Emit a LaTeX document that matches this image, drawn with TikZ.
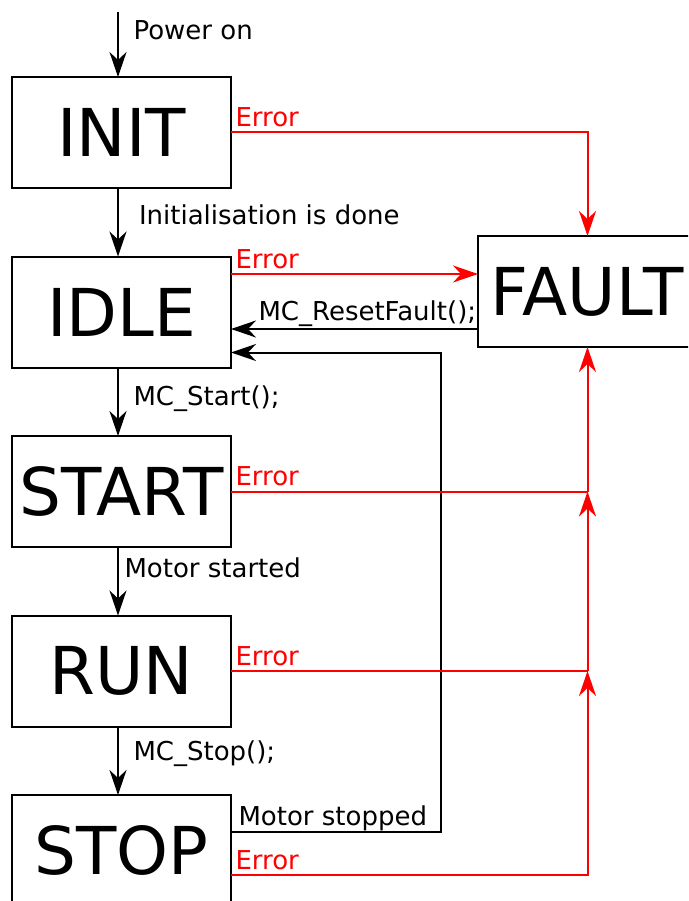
\documentclass[tikz,border=0pt]{standalone}
\usepackage{fontspec}
\setmainfont{DejaVu Sans}
\usepackage{xcolor}
\usepackage{tikz}
\usetikzlibrary{arrows.meta,positioning}

\begin{document}
\begin{tikzpicture}[
    x=1pt,y=1pt,
    >={Stealth[length=25pt,width=17pt,inset=8pt]},
    flow/.style={->,draw=black,line width=2pt},
    errline/.style={draw=red,line width=2pt},
    errflow/.style={errline,->},
    state/.style={draw,line width=2pt,inner sep=0pt,outer sep=0pt,minimum width=219pt,
      minimum height=111pt,font=\fontsize{66}{66}\selectfont},
    lbl/.style={font=\fontsize{26}{26}\selectfont,inner sep=0pt,anchor=base west},
    errlbl/.style={lbl,text=red,pos=0,xshift=3.5pt,yshift=6pt},
    node distance=68.5pt
  ]
    \path[use as bounding box,clip] (0,0) rectangle (688,-901);

    % state column
    \coordinate (pwr) at (118,-12);
    \node[state] (init) at (121.5,-132.5) {INIT};
    \node[state,below=of init] (idle) {IDLE};
    \node[state,below=of idle] (start) {START};
    \node[state,below=of start] (run) {RUN};
    \node[state,below=of run] (stop) {STOP};
    \node[state] (fault) at (587.5,-291.5) {FAULT};

    \draw[flow] (pwr) -- (init.north -| pwr)
      node[lbl,pos=.42,xshift=14.5pt] {Power on};
    \draw[flow] (init.south -| pwr) -- (idle.north -| pwr)
      node[lbl,pos=.54,xshift=20pt] {Initialisation is done};
    \draw[flow] (idle.south -| pwr) -- (start.north -| pwr)
      node[lbl,pos=.55,xshift=14.5pt] {MC\_Start();};
    \draw[flow] (start.south -| pwr) -- (run.north -| pwr)
      node[lbl,pos=.44,xshift=5.5pt] {Motor started};
    \draw[flow] (run.south -| pwr) -- (stop.north -| pwr)
      node[lbl,pos=.5,xshift=14.5pt] {MC\_Stop();};

    % back to IDLE
    \draw[flow] ([yshift=-37.5pt]fault.west) -- ([yshift=-37.5pt]fault.west -| idle.east)
      node[lbl,pos=1,xshift=26.5pt,yshift=9pt] {MC\_ResetFault();};
    \draw[flow] ([yshift=18.5pt]stop.east) -| ([xshift=210pt,yshift=-40.5pt]idle.east)
      node[lbl,pos=0,xshift=6.5pt,yshift=7pt] {Motor stopped}
      -- ([yshift=-40.5pt]idle.east);

    % error paths into FAULT
    \coordinate (jstart) at (start.east -| fault.south);
    \coordinate (jrun) at (run.east -| fault.south);
    \draw[errflow] (init.east) -| (fault.north) node[errlbl] {Error};
    \draw[errflow] ([yshift=38pt]idle.east) -- ([yshift=38pt]idle.east -| fault.west)
      node[errlbl] {Error};
    \draw[errline] (start.east) -- (jstart) node[errlbl] {Error};
    \draw[errflow] (jstart) -- (fault.south);
    \draw[errline] (run.east) -- (jrun) node[errlbl] {Error};
    \draw[errflow] (jrun) -- (jstart);
    \draw[errflow] ([yshift=-24.5pt]stop.east) -| (jrun) node[errlbl] {Error};
  \end{tikzpicture}
\end{document}
